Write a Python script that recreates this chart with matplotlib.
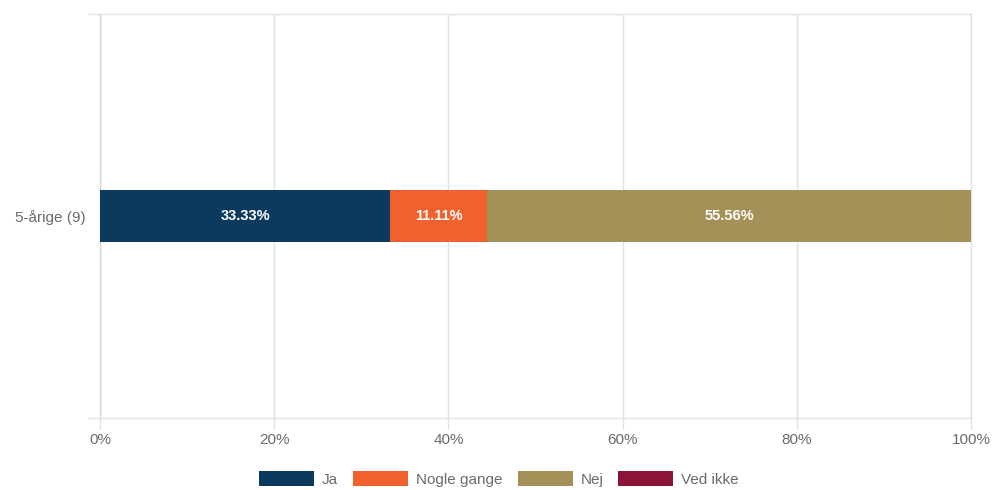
import matplotlib
matplotlib.use("Agg")
import matplotlib.pyplot as plt
from matplotlib.patches import Patch
import numpy as np

plt.rcParams['font.family'] = ['Liberation Sans', 'DejaVu Sans']

categories = ["5-årige (9)"]
series_names = ["Ja", "Nogle gange", "Nej", "Ved ikke"]
series_values = [[33.33], [11.11], [55.56], [0.0]]
series_colors = ["#0b3a5e", "#f0612e", "#a39158", "#8a1538"]
x_ticks = [0, 20, 40, 60, 80, 100]
x_tick_labels = ["0%", "20%", "40%", "60%", "80%", "100%"]

grid_col = "#e2e2e2"
text_col = "#6b6b6b"

fig = plt.figure(figsize=(9.94, 4.9), dpi=100)
ax = fig.add_axes([100 / 994, 72 / 490, 871 / 994, 404 / 490])

y = np.arange(len(categories))
left = np.zeros(len(categories))
for name, vals, col in zip(series_names, series_values, series_colors):
    vals = np.array(vals)
    bars = ax.barh(y, vals, left=left, height=52 / 404, color=col, zorder=3)
    for b, v in zip(bars, vals):
        if v > 0:
            ax.text(b.get_x() + b.get_width() / 2, b.get_y() + b.get_height() / 2,
                    f"{v:.2f}%", ha="center", va="center", color="white",
                    fontsize=10.5, fontweight="bold", zorder=4)
    left = left + vals

ax.set_xlim(0, 100)
ax.set_ylim(-0.5, 0.5)
ax.set_xticks(x_ticks)
ax.set_xticklabels(x_tick_labels)
ax.set_yticks(y)
ax.set_yticklabels(categories)
ax.set_yticks([-0.5, 0.5], minor=True)

ax.grid(axis="x", color=grid_col, linewidth=1, zorder=0)
for s in ax.spines.values():
    s.set_color(grid_col)
    s.set_linewidth(1)
ax.spines["left"].set_color("#d4d4d4")

ax.tick_params(axis="x", which="major", length=8, width=1, color=grid_col,
               labelcolor=text_col, labelsize=11, pad=3)
ax.tick_params(axis="y", which="major", length=0, labelcolor=text_col,
               labelsize=11, pad=10)
ax.tick_params(axis="y", which="minor", length=9, width=1, color=grid_col)

handles = [Patch(facecolor=c, edgecolor="none") for c in series_colors]
fig.legend(handles, series_names, loc="center", bbox_to_anchor=(499 / 994, 1 - 479 / 490),
           ncol=4, frameon=False, fontsize=11, labelcolor=text_col,
           handlelength=3.6, handleheight=1.1, handletextpad=0.5, columnspacing=1.0)

fig.savefig("out.png", dpi=100)
